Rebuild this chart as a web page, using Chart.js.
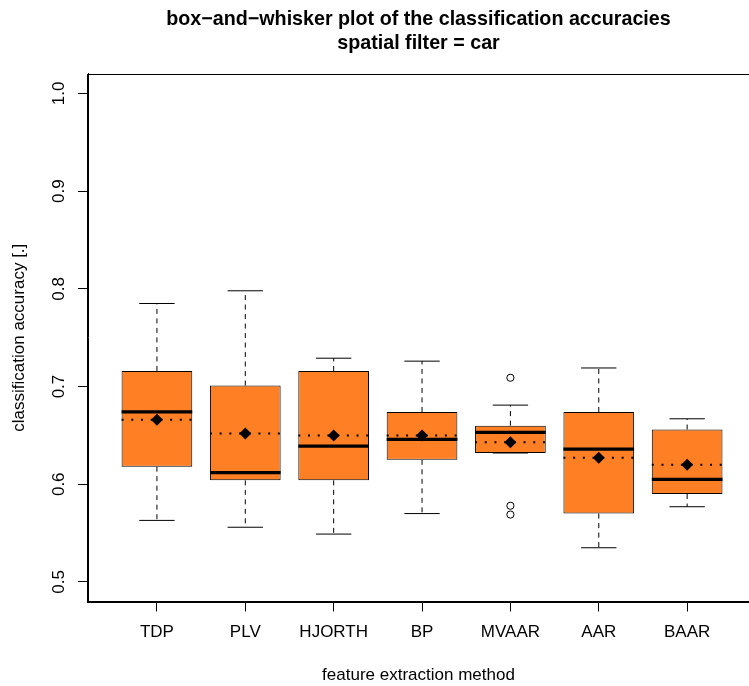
<!DOCTYPE html>
<html>
<head>
<meta charset="utf-8">
<script src="https://cdn.jsdelivr.net/npm/chart.js@4.4.1/dist/chart.umd.min.js"></script>
<style>
  html, body { margin: 0; padding: 0; background: #fff; overflow: hidden; width: 749px; height: 686px; }
  #c { display: block; }
</style>
</head>
<body>
<canvas id="c" width="749" height="686"></canvas>
<script>
// ---- data ----
const categories = ["TDP", "PLV", "HJORTH", "BP", "MVAAR", "AAR", "BAAR"];
const lowerWhisker = [0.563, 0.556, 0.549, 0.570, 0.632, 0.535, 0.577];
const q1Values     = [0.618, 0.604, 0.604, 0.625, 0.632, 0.570, 0.590];
const medianValues = [0.674, 0.612, 0.639, 0.646, 0.653, 0.636, 0.605];
const q3Values     = [0.716, 0.701, 0.716, 0.674, 0.660, 0.674, 0.656];
const upperWhisker = [0.785, 0.798, 0.729, 0.726, 0.681, 0.719, 0.667];
const meanValues   = [0.666, 0.652, 0.650, 0.650, 0.643, 0.627, 0.620];
const outlierCategory = [5, 5, 5];
const outlierValues   = [0.709, 0.578, 0.569];
const yTickValues = [0.5, 0.6, 0.7, 0.8, 0.9, 1.0];
const titleLines = ["box\u2212and\u2212whisker plot of the classification accuracies", "spatial filter = car"];

// ---- style constants ----
const BOX_HALF = 0.4;   // boxwex 0.8
const CAP_HALF = 0.2;   // staple width
const X_MIN = 0.22, X_MAX = 7.70;  // visible part of the x range (plot box continues past the right edge)
const FONT = "'Liberation Sans', Arial, Helvetica, sans-serif";

const pos = categories.map((c, i) => i + 1);

function segments(getA, getB, x0, x1) {
  const out = [];
  pos.forEach((p, i) => {
    out.push({ x: p + x0, y: getA(i) });
    out.push({ x: p + x1, y: getB(i) });
    out.push({ x: p + x1, y: null });
  });
  return out;
}

const boxData = pos.map((p, i) => ({ x: p, y: [q1Values[i], q3Values[i]] }));
const medianData = segments(i => medianValues[i], i => medianValues[i], -BOX_HALF, BOX_HALF);
const meanLineData = segments(i => meanValues[i], i => meanValues[i], -BOX_HALF, BOX_HALF);
const upperWhiskerData = segments(i => q3Values[i], i => upperWhisker[i], 0, 0);
const lowerWhiskerData = segments(i => q1Values[i], i => lowerWhisker[i], 0, 0);
const upperCapData = segments(i => upperWhisker[i], i => upperWhisker[i], -CAP_HALF, CAP_HALF);
const lowerCapData = segments(i => lowerWhisker[i], i => lowerWhisker[i], -CAP_HALF, CAP_HALF);
const meanPoints = pos.map((p, i) => ({ x: p, y: meanValues[i] }));
const outlierPoints = outlierValues.map((v, i) => ({ x: outlierCategory[i], y: v }));

const lineBase = { type: 'line', pointRadius: 0, pointHoverRadius: 0, spanGaps: false, fill: false, borderColor: '#000', tension: 0 };

const frame = {
  id: 'frame',
  afterDatasetsDraw(chart) {
    const a = chart.chartArea, ctx = chart.ctx;
    ctx.save();
    ctx.strokeStyle = '#000';
    ctx.lineWidth = 1;
    ctx.strokeRect(Math.round(a.left) - 0.5, Math.round(a.top) + 0.5, Math.round(a.right - a.left) + 10, Math.round(a.bottom - a.top));
    ctx.restore();
  }
};

new Chart(document.getElementById('c'), {
  type: 'bar',
  data: {
    datasets: [
      { type: 'bar', data: boxData, backgroundColor: '#FF7F24', borderColor: '#000', borderWidth: 1,
        borderSkipped: false, barPercentage: 2 * BOX_HALF, categoryPercentage: 1, order: 10 },
      Object.assign({}, lineBase, { data: upperWhiskerData, borderWidth: 1, borderDash: [5, 4.5], order: 9 }),
      Object.assign({}, lineBase, { data: lowerWhiskerData, borderWidth: 1, borderDash: [5, 4.5], order: 9 }),
      Object.assign({}, lineBase, { data: upperCapData, borderWidth: 1, order: 8 }),
      Object.assign({}, lineBase, { data: lowerCapData, borderWidth: 1, order: 8 }),
      Object.assign({}, lineBase, { data: medianData, borderWidth: 3.3, order: 7 }),
      Object.assign({}, lineBase, { data: meanLineData, borderWidth: 2, borderDash: [2, 7.7], order: 6 }),
      { type: 'scatter', data: meanPoints, pointStyle: 'rectRot', pointRadius: 6, backgroundColor: '#000',
        borderColor: '#000', borderWidth: 0, order: 5 },
      { type: 'scatter', data: outlierPoints, pointStyle: 'circle', pointRadius: 3.6, backgroundColor: 'rgba(0,0,0,0)',
        borderColor: '#000', borderWidth: 1, order: 4 }
    ]
  },
  options: {
    responsive: false,
    animation: false,
    devicePixelRatio: 1,
    layout: { padding: 0, autoPadding: false },
    plugins: {
      legend: { display: false },
      tooltip: { enabled: false },
      title: {
        display: true, fullSize: false, text: titleLines, color: '#000',
        font: { family: FONT, size: 19.7, weight: 'bold', lineHeight: 1.19 },
        padding: { top: 8, bottom: 19 }
      }
    },
    scales: {
      x: {
        type: 'linear', min: X_MIN, max: X_MAX, position: 'bottom', offset: false,
        afterFit(s) { s.height = 84.5; s.paddingLeft = 0; s.paddingRight = 0; },
        afterBuildTicks(s) { s.ticks = pos.map(v => ({ value: v })); },
        ticks: { callback: v => categories[v - 1], color: '#000', font: { family: FONT, size: 17 },
                 padding: 11, maxRotation: 0, autoSkip: false },
        grid: { display: true, offset: false, drawOnChartArea: false, drawTicks: true, tickLength: 10, tickColor: '#000', color: '#000' },
        border: { display: true, color: '#000', width: 1 },
        title: { display: true, text: 'feature extraction method', color: '#000',
                 font: { family: FONT, size: 17 }, padding: { top: 0, bottom: 0 } }
      },
      y: {
        type: 'linear', min: 0.48, max: 1.02,
        afterFit(s) { s.width = 88; },
        afterBuildTicks(s) { s.ticks = yTickValues.map(v => ({ value: v })); },
        ticks: { callback: v => v.toFixed(1), color: '#000', font: { family: FONT, size: 17 },
                 minRotation: 90, maxRotation: 90, crossAlign: 'center', padding: 7 },
        grid: { display: true, drawOnChartArea: false, drawTicks: true, tickLength: 10, tickColor: '#000', color: '#000' },
        border: { display: true, color: '#000', width: 1 },
        title: { display: true, text: 'classification accuracy [.]', color: '#000',
                 font: { family: FONT, size: 17 }, padding: { top: 9, bottom: 0 } }
      }
    }
  },
  plugins: [frame]
});
</script>
</body>
</html>
